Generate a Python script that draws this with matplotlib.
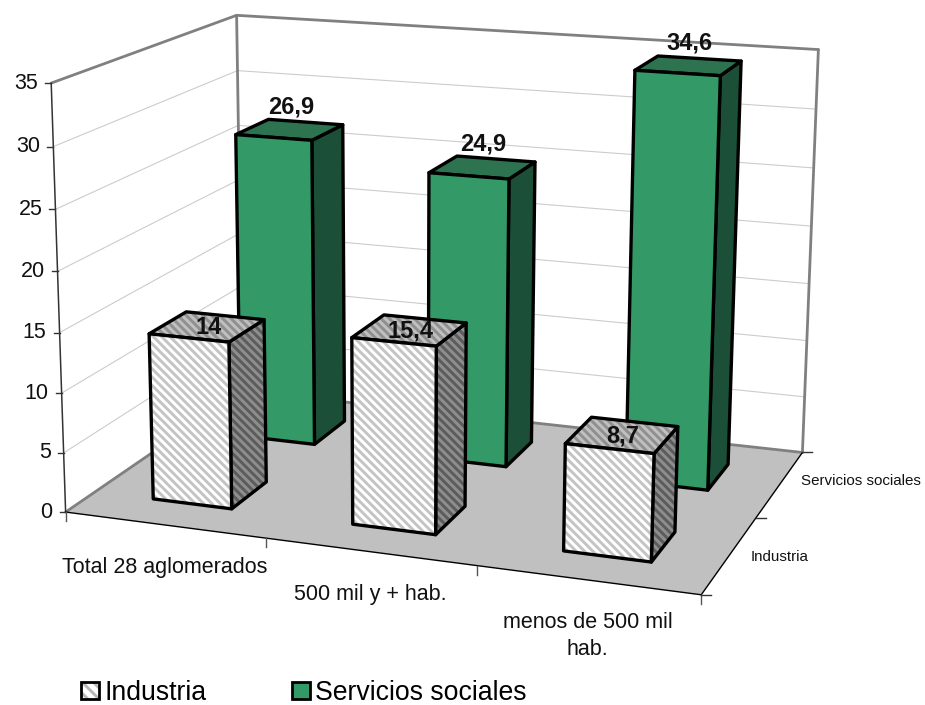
import numpy as np
import matplotlib
matplotlib.use('Agg')
import matplotlib.pyplot as plt
from matplotlib.patches import Polygon, Patch
from matplotlib.legend_handler import HandlerTuple

plt.rcParams['font.family'] = ['Liberation Sans', 'DejaVu Sans']
plt.rcParams['hatch.linewidth'] = 2.1

# data set
categories = ['Total 28 aglomerados', '500 mil y + hab.', 'menos de 500 mil\nhab.']
series_names = ['Industria', 'Servicios sociales']
industria = [14, 15.4, 8.7]
servicios = [26.9, 24.9, 34.6]
value_labels = [['14', '15,4', '8,7'], ['26,9', '24,9', '34,6']]
y_ticks = [0, 5, 10, 15, 20, 25, 30, 35]

# box corners (cat, series, value) and where they land in the picture
box_pts = [(0, 0, 0), (3, 0, 0), (3, 2, 0), (0, 2, 0), (0, 0, 35), (0, 2, 35), (3, 2, 35)]
pix_pts = [(67, 511), (701, 596), (803, 451), (241, 392), (50, 83), (238, 15), (818, 50)]

STRIPES = '\\' * 4


def fit_camera(world, pix):
    rows = []
    for (X, Y, Z), (u, v) in zip(world, pix):
        rows.append([X, Y, Z, 1, 0, 0, 0, 0, -u * X, -u * Y, -u * Z, -u])
        rows.append([0, 0, 0, 0, X, Y, Z, 1, -v * X, -v * Y, -v * Z, -v])
    return np.linalg.svd(np.array(rows, dtype=float))[2][-1].reshape(3, 4)


cam = fit_camera(box_pts, pix_pts)


def proj(x, y, z):
    p = cam @ np.array([x, y, z, 1.0])
    return p[0] / p[2], p[1] / p[2]


fig = plt.figure(figsize=(9.25, 7.05), dpi=100)
ax = fig.add_axes([0, 0, 1, 1])
ax.set_xlim(0, 925)
ax.set_ylim(705, 0)
ax.axis('off')


def face(pts, color, hatch_color=None, z=1):
    xy = [proj(*p) for p in pts]
    if hatch_color:
        ax.add_patch(Polygon(xy, facecolor=color, edgecolor=hatch_color, hatch=STRIPES, lw=0, zorder=z))
        ax.add_patch(Polygon(xy, fill=False, edgecolor='black', lw=2.4, joinstyle='round', zorder=z))
    else:
        ax.add_patch(Polygon(xy, facecolor=color, edgecolor='black', lw=2.4, joinstyle='round', zorder=z))


def line(a, b, color='black', lw=1.0, z=1):
    pa, pb = proj(*a), proj(*b)
    ax.plot([pa[0], pb[0]], [pa[1], pb[1]], color=color, lw=lw, zorder=z, solid_capstyle='round')


# floor and walls
ax.add_patch(Polygon([proj(0, 0, 0), proj(3, 0, 0), proj(3, 2, 0), proj(0, 2, 0)],
                     facecolor='#c0c0c0', edgecolor='none', zorder=1))
for t in y_ticks[1:-1]:
    line((0, 0, t), (0, 2, t), '#cccccc', 0.8)
    line((0, 2, t), (3, 2, t), '#cccccc', 0.8)
line((0, 0, 35), (0, 2, 35), '#808080', 2.0, 2)
line((0, 2, 35), (3, 2, 35), '#808080', 2.0, 2)
line((0, 2, 0), (0, 2, 35), '#808080', 2.0, 2)
line((3, 2, 0), (3, 2, 35), '#808080', 2.0, 2)
line((0, 0, 0), (0, 2, 0), '#808080', 2.0, 2)
line((0, 2, 0), (3, 2, 0), '#808080', 2.0, 2)
line((0, 0, 0), (0, 0, 35), '#333333', 1.1, 2)
line((0, 0, 0), (3, 0, 0), 'black', 1.0, 2)
line((3, 0, 0), (3, 2, 0), 'black', 1.0, 2)

# axis ticks and labels
for t in y_ticks:
    px, py = proj(0, 0, t)
    ax.plot([px - 6, px], [py, py], color='#333333', lw=1.0, zorder=2)
    ax.text(px - 13, py, str(t), ha='right', va='center', fontsize=15.5, color='#111111')
for i in range(4):
    px, py = proj(i, 0, 0)
    ax.plot([px, px], [py, py + 9], color='#555555', lw=1.0, zorder=2)
for i in range(3):
    px, py = proj(3, i, 0)
    ax.plot([px, px + 10], [py, py], color='#333333', lw=1.0, zorder=2)
for i, name in enumerate(categories):
    px, py = proj(i + 0.5, 0, 0)
    ax.text(px, py + 32, name, ha='center', va='top', fontsize=15.5, color='#111111', linespacing=1.4)
for i, name in enumerate(series_names):
    px, py = proj(3, i + 0.5, 0)
    ax.text(px + 21, py + 2 - 5 * i, name, ha='left', va='center', fontsize=10.9, color='#111111')

# bars, back row first
bar_w = 0.4
styles = [('white', '#c4c4c4', '#5c5c5c', '#8e8e8e', '#909090', '#c0c0c0'),
          ('#339966', None, '#1c4f37', None, '#2d7350', None)]
for s in [1, 0]:
    vals = [industria, servicios][s]
    front, front_h, side, side_h, top, top_h = styles[s]
    y0, y1 = s + 0.5 - bar_w / 2, s + 0.5 + bar_w / 2
    for i, v in enumerate(vals):
        x0, x1 = i + 0.5 - bar_w / 2, i + 0.5 + bar_w / 2
        z = 5 + 5 * (1 - s)
        face([(x1, y0, 0), (x1, y1, 0), (x1, y1, v), (x1, y0, v)], side, side_h, z)
        face([(x0, y0, v), (x1, y0, v), (x1, y1, v), (x0, y1, v)], top, top_h, z)
        face([(x0, y0, 0), (x1, y0, 0), (x1, y0, v), (x0, y0, v)], front, front_h, z)
        cx, cy = proj(i + 0.5, s + 0.5, v)
        dy = 1 if s == 0 else -23
        ax.text(cx + 1, cy + dy, value_labels[s][i], ha='center', va='center', fontsize=17,
                fontweight='bold', color='#111111', zorder=z + 1)

# legend
handles = [(Patch(facecolor='white', edgecolor='#b8b8b8', hatch='\\' * 3, lw=0),
            Patch(fill=False, edgecolor='black', lw=2.0)),
           Patch(facecolor='#339966', edgecolor='black', lw=2.0)]
ax.legend(handles, series_names, ncols=2, loc='lower left', bbox_to_anchor=(81 / 925, -1 / 705),
          frameon=False, fontsize=19.2, handlelength=0.67, handleheight=0.63, handletextpad=0.2,
          columnspacing=3.2, borderaxespad=0, borderpad=0,
          handler_map={tuple: HandlerTuple(ndivide=1, pad=0)})

fig.savefig('out.png', dpi=100)
